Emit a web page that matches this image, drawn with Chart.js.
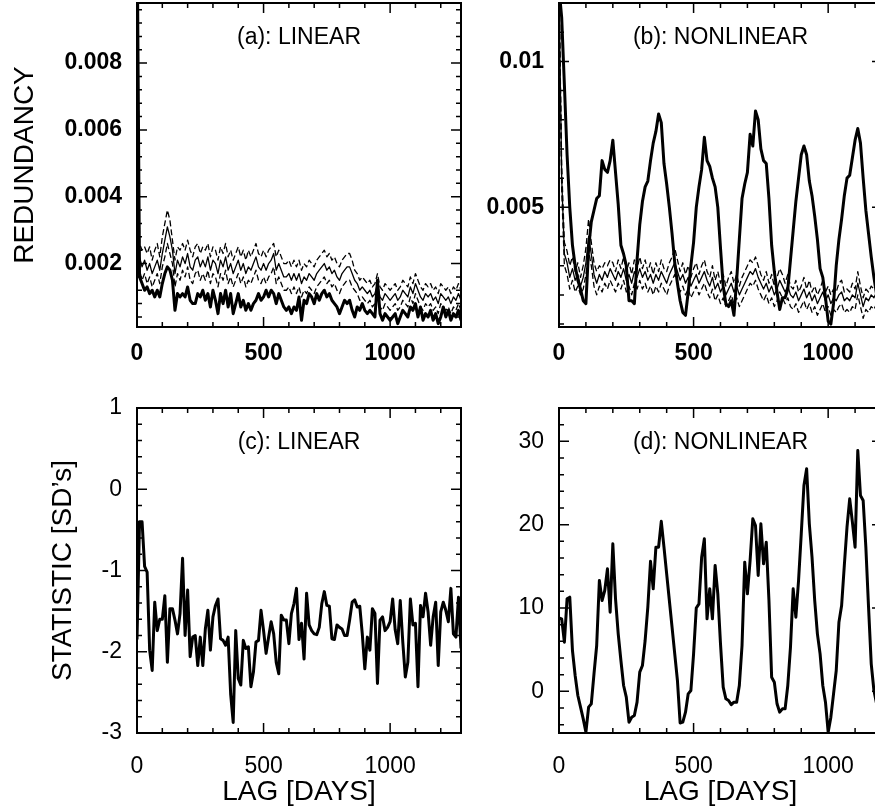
<!DOCTYPE html>
<html lang="en">
<head>
    <meta charset="UTF-8">
    <title>Redundancy and test statistic versus lag</title>
    <style>
        html, body {
            margin: 0;
            padding: 0;
            background: #ffffff;
            width: 875px;
            height: 812px;
            overflow: hidden;
        }

        canvas {
            position: absolute;
        }

        #chartA { left: 0; top: 0; }
        #chartB { left: 440px; top: 0; }
        #chartC { left: 0; top: 380px; }
        #chartD { left: 440px; top: 380px; }
    </style>
</head>
<body>
    <canvas id="chartA" width="470" height="380"></canvas>
    <canvas id="chartB" width="460" height="380"></canvas>
    <canvas id="chartC" width="470" height="432"></canvas>
    <canvas id="chartD" width="460" height="432"></canvas>

    <script src="https://cdn.jsdelivr.net/npm/chart.js"></script>
    <script>
        // Lags in days (shared by all four panels)
        const LAGS = [
            0, 10, 20, 30, 40, 50, 60, 70, 80, 90,
            100, 110, 120, 130, 140, 150, 160, 170, 180, 190,
            200, 210, 220, 230, 240, 250, 260, 270, 280, 290,
            300, 310, 320, 330, 340, 350, 360, 370, 380, 390,
            400, 410, 420, 430, 440, 450, 460, 470, 480, 490,
            500, 510, 520, 530, 540, 550, 560, 570, 580, 590,
            600, 610, 620, 630, 640, 650, 660, 670, 680, 690,
            700, 710, 720, 730, 740, 750, 760, 770, 780, 790,
            800, 810, 820, 830, 840, 850, 860, 870, 880, 890,
            900, 910, 920, 930, 940, 950, 960, 970, 980, 990,
            1000, 1010, 1020, 1030, 1040, 1050, 1060, 1070, 1080, 1090,
            1100, 1110, 1120, 1130, 1140, 1150, 1160, 1170, 1180, 1190,
            1200, 1210, 1220, 1230, 1240, 1250, 1260, 1270, 1280
        ];

        // (a) linear redundancy: data, surrogate mean, surrogate band
        const redLinData = [
            .0125, .0016, .0014, .0012, .0013, .0011, .0012, .0010, .0012, .0010,
            .0014, .0017, .0019, .0018, .0015, .0006, .0011, .0010, .0011, .0010,
            .0013, .0009, .0008, .0008, .0011, .0010, .0012, .0009, .0011, .0007,
            .0012, .0009, .0005, .0011, .0008, .0012, .0007, .0011, .0005, .0008,
            .0011, .0007, .0009, .0006, .0008, .0006, .0008, .0009, .0011, .0009,
            .0010, .0012, .0010, .0012, .0011, .0008, .0011, .0009, .0007, .0006,
            .0007, .0005, .0007, .0006, .0010, .0003, .0009, .0008, .0011, .0010,
            .0008, .0011, .0009, .0011, .0012, .0010, .0011, .0009, .0008, .0007,
            .0005, .0007, .0009, .0008, .0009, .0006, .0004, .0007, .0006, .0008,
            .0006, .0005, .0006, .0005, .0004, .0015, .0005, .0003, .0005, .0004,
            .0003, .0004, .0005, .0002, .0004, .0006, .0005, .0004, .0007, .0006,
            .0008, .0004, .0007, .0003, .0005, .0004, .0006, .0003, .0005, .0002,
            .0004, .0007, .0004, .0006, .0003, .0005, .0004, .0006, .0003
        ];
        const redLinMean = [
            .0125, .0022, .0019, .0021, .0018, .0020, .0017, .0019, .0021, .0018,
            .0023, .0027, .0031, .0028, .0024, .0017, .0021, .0019, .0022, .0020,
            .0023, .0019, .0018, .0021, .0022, .0019, .0021, .0019, .0022, .0018,
            .0021, .0020, .0017, .0021, .0019, .0022, .0018, .0020, .0017, .0019,
            .0021, .0018, .0020, .0017, .0019, .0018, .0020, .0022, .0019, .0018,
            .0020, .0018, .0020, .0021, .0023, .0018, .0020, .0018, .0016, .0016,
            .0017, .0015, .0017, .0015, .0017, .0014, .0016, .0015, .0017, .0016,
            .0015, .0017, .0018, .0019, .0020, .0018, .0019, .0017, .0018, .0016,
            .0015, .0017, .0018, .0019, .0019, .0017, .0015, .0014, .0012, .0013,
            .0012, .0011, .0012, .0010, .0011, .0014, .0010, .0009, .0011, .0010,
            .0009, .0010, .0011, .0009, .0010, .0012, .0011, .0010, .0013, .0011,
            .0014, .0012, .0010, .0009, .0011, .0010, .0011, .0009, .0010, .0008,
            .0011, .0010, .0009, .0010, .0008, .0010, .0009, .0011, .0009
        ];
        const redLinUpper = [
            .0125, .0026, .0024, .0025, .0023, .0025, .0021, .0024, .0026, .0022,
            .0028, .0032, .0036, .0033, .0027, .0021, .0025, .0024, .0026, .0024,
            .0027, .0024, .0022, .0025, .0026, .0023, .0025, .0024, .0026, .0022,
            .0025, .0024, .0021, .0025, .0023, .0026, .0022, .0024, .0021, .0023,
            .0025, .0022, .0024, .0021, .0024, .0022, .0024, .0026, .0023, .0022,
            .0024, .0022, .0024, .0025, .0026, .0022, .0024, .0022, .0020, .0020,
            .0021, .0019, .0021, .0019, .0021, .0018, .0020, .0019, .0021, .0020,
            .0019, .0021, .0022, .0023, .0024, .0022, .0023, .0021, .0022, .0020,
            .0019, .0021, .0022, .0023, .0023, .0021, .0018, .0017, .0015, .0016,
            .0015, .0014, .0015, .0013, .0014, .0017, .0013, .0012, .0014, .0013,
            .0012, .0013, .0014, .0012, .0013, .0015, .0014, .0013, .0016, .0014,
            .0017, .0015, .0013, .0012, .0014, .0013, .0014, .0012, .0013, .0011,
            .0014, .0013, .0012, .0013, .0011, .0013, .0012, .0014, .0012
        ];
        const redLinLower = [
            .0125, .0018, .0015, .0017, .0014, .0016, .0013, .0015, .0017, .0014,
            .0019, .0022, .0026, .0023, .0020, .0013, .0017, .0015, .0018, .0016,
            .0019, .0015, .0014, .0017, .0018, .0015, .0017, .0015, .0018, .0014,
            .0017, .0016, .0013, .0017, .0015, .0018, .0014, .0016, .0013, .0015,
            .0017, .0014, .0016, .0013, .0015, .0014, .0016, .0018, .0015, .0014,
            .0016, .0014, .0016, .0017, .0019, .0014, .0016, .0014, .0012, .0012,
            .0013, .0011, .0013, .0011, .0013, .0010, .0012, .0011, .0013, .0012,
            .0011, .0013, .0014, .0015, .0016, .0014, .0015, .0013, .0014, .0012,
            .0011, .0013, .0014, .0015, .0015, .0013, .0012, .0011, .0009, .0010,
            .0009, .0008, .0009, .0007, .0008, .0011, .0007, .0006, .0008, .0007,
            .0006, .0007, .0008, .0006, .0007, .0009, .0008, .0007, .0010, .0008,
            .0011, .0009, .0007, .0006, .0008, .0007, .0008, .0006, .0007, .0005,
            .0008, .0007, .0006, .0007, .0005, .0007, .0006, .0008, .0006
        ];

        // (b) nonlinear redundancy (lags 0..1200)
        const redNonData = [
            .0125, .0115, .0092, .0068, .0050, .0037, .0030, .0025, .0022, .0018,
            .0017, .0036, .0045, .0049, .0053, .0054, .0066, .0063, .0062, .0066,
            .0073, .0062, .0051, .0037, .0034, .0030, .0018, .0018, .0017, .0032,
            .0044, .0052, .0057, .0059, .0066, .0072, .0076, .0082, .0079, .0065,
            .0058, .0050, .0041, .0031, .0024, .0018, .0014, .0013, .0021, .0030,
            .0038, .0050, .0057, .0063, .0074, .0066, .0064, .0060, .0057, .0050,
            .0036, .0023, .0017, .0016, .0018, .0013, .0025, .0039, .0053, .0058,
            .0062, .0075, .0071, .0083, .0080, .0070, .0066, .0065, .0053, .0037,
            .0028, .0021, .0015, .0019, .0019, .0022, .0032, .0042, .0052, .0060,
            .0068, .0071, .0068, .0059, .0054, .0047, .0039, .0029, .0026, .0019,
            .0011, .0010, .0017, .0030, .0039, .0046, .0054, .0060, .0061, .0067,
            .0073, .0077, .0072, .0060, .0049, .0041, .0033, .0026, .0020, .0016,
            .0014
        ];
        const redNonMean = [
            .0125, .0060, .0034, .0031, .0026, .0029, .0025, .0027, .0023, .0026,
            .0031, .0040, .0034, .0027, .0024, .0027, .0025, .0028, .0026, .0029,
            .0027, .0025, .0028, .0026, .0029, .0025, .0027, .0024, .0028, .0026,
            .0029, .0026, .0028, .0025, .0027, .0024, .0027, .0025, .0028, .0026,
            .0024, .0027, .0029, .0031, .0028, .0025, .0027, .0024, .0026, .0023,
            .0025, .0027, .0024, .0026, .0028, .0025, .0023, .0026, .0022, .0024,
            .0021, .0023, .0020, .0022, .0024, .0021, .0023, .0020, .0022, .0024,
            .0026, .0028, .0027, .0029, .0026, .0024, .0022, .0024, .0021, .0023,
            .0020, .0022, .0025, .0023, .0021, .0023, .0020, .0019, .0021, .0018,
            .0020, .0022, .0019, .0021, .0018, .0020, .0017, .0019, .0021, .0018,
            .0020, .0017, .0019, .0018, .0020, .0021, .0018, .0019, .0018, .0020,
            .0019, .0024, .0020, .0016, .0019, .0018, .0020, .0019, .0021, .0019,
            .0020
        ];
        const redNonUpper = [
            .0125, .0064, .0038, .0035, .0030, .0033, .0028, .0031, .0026, .0030,
            .0036, .0046, .0038, .0031, .0028, .0030, .0029, .0031, .0030, .0032,
            .0031, .0028, .0032, .0029, .0033, .0028, .0031, .0027, .0032, .0029,
            .0033, .0029, .0032, .0028, .0031, .0027, .0031, .0028, .0032, .0029,
            .0028, .0031, .0033, .0036, .0032, .0028, .0031, .0027, .0030, .0026,
            .0029, .0031, .0027, .0030, .0032, .0028, .0026, .0030, .0025, .0028,
            .0024, .0027, .0023, .0026, .0028, .0024, .0027, .0023, .0026, .0028,
            .0030, .0032, .0031, .0033, .0030, .0027, .0025, .0028, .0024, .0027,
            .0023, .0026, .0029, .0027, .0024, .0027, .0023, .0022, .0025, .0021,
            .0023, .0026, .0022, .0025, .0021, .0023, .0020, .0022, .0025, .0021,
            .0023, .0020, .0022, .0021, .0024, .0025, .0021, .0022, .0021, .0024,
            .0022, .0028, .0023, .0019, .0022, .0021, .0023, .0022, .0025, .0022,
            .0023
        ];
        const redNonLower = [
            .0125, .0056, .0030, .0027, .0022, .0025, .0021, .0023, .0020, .0022,
            .0027, .0035, .0030, .0023, .0020, .0023, .0021, .0024, .0022, .0025,
            .0023, .0021, .0024, .0022, .0025, .0021, .0023, .0020, .0024, .0022,
            .0025, .0022, .0024, .0021, .0023, .0020, .0023, .0021, .0024, .0022,
            .0020, .0023, .0025, .0027, .0024, .0021, .0023, .0020, .0022, .0019,
            .0021, .0023, .0020, .0022, .0024, .0021, .0019, .0022, .0018, .0020,
            .0017, .0019, .0016, .0018, .0020, .0017, .0019, .0016, .0018, .0020,
            .0022, .0024, .0023, .0025, .0022, .0020, .0018, .0020, .0017, .0019,
            .0016, .0018, .0021, .0019, .0017, .0019, .0016, .0015, .0017, .0014,
            .0016, .0018, .0015, .0017, .0014, .0016, .0013, .0015, .0017, .0014,
            .0016, .0013, .0015, .0014, .0016, .0017, .0014, .0015, .0014, .0016,
            .0015, .0020, .0016, .0012, .0015, .0014, .0016, .0015, .0017, .0015,
            .0016
        ];

        // (c) linear test statistic [SD's]
        const statLin = [
            -1.85, -0.40, -0.40, -0.95, -1.02, -1.98, -2.23, -1.39, -1.74, -1.60,
            -1.60, -1.31, -2.13, -1.47, -1.47, -1.61, -1.78, -1.53, -0.85, -1.80,
            -1.24, -2.06, -1.82, -1.80, -2.17, -1.82, -2.17, -1.72, -1.49, -1.98,
            -1.57, -1.43, -1.35, -1.84, -1.86, -1.92, -1.82, -2.52, -2.87, -1.74,
            -2.33, -2.41, -1.86, -1.96, -1.94, -2.43, -2.25, -1.88, -1.86, -1.49,
            -1.74, -2.02, -1.82, -1.63, -1.78, -2.13, -2.27, -1.55, -1.61, -1.61,
            -1.90, -1.53, -1.41, -1.22, -1.85, -1.65, -2.09, -1.28, -1.67, -1.74,
            -1.78, -1.79, -1.70, -1.41, -1.26, -1.43, -1.44, -1.84, -1.85, -1.67,
            -1.70, -1.72, -1.80, -1.80, -1.61, -1.39, -1.36, -1.45, -1.44, -1.78,
            -2.21, -1.82, -1.98, -1.47, -1.53, -2.39, -1.61, -1.57, -1.74, -1.70,
            -1.63, -1.35, -1.73, -1.90, -1.37, -1.88, -2.31, -2.13, -1.35, -1.67,
            -1.65, -2.43, -1.43, -1.57, -1.28, -1.51, -1.92, -1.57, -1.39, -2.17,
            -1.51, -1.39, -1.49, -1.63, -1.22, -1.78, -1.82, -1.33, -1.96
        ];

        // (d) nonlinear test statistic [SD's] (lags 0..1200)
        const statNon = [
            8.8, 8.7, 5.9, 11.1, 11.3, 4.9, 1.9, -0.5, -1.9, -3.3,
            -4.9, -1.9, -1.5, 2.1, 5.5, 13.3, 10.9, 12.1, 14.7, 9.5,
            17.7, 11.1, 6.9, 3.7, 0.7, -0.7, -3.7, -3.1, -2.9, -1.3,
            2.3, 3.1, 6.1, 10.1, 15.6, 12.3, 17.3, 17.3, 20.4, 17.3,
            14.1, 10.9, 7.7, 4.5, 1.3, -3.8, -3.7, -2.5, -0.3, 0.1,
            4.5, 10.0, 10.5, 16.1, 18.3, 8.7, 12.3, 8.7, 15.1, 11.7,
            5.7, 0.5, -0.9, -1.1, -1.6, -1.3, -1.3, 0.7, 5.5, 15.5,
            11.7, 15.7, 20.7, 19.9, 13.9, 20.1, 15.3, 17.9, 10.9, 1.7,
            1.1, -1.5, -2.5, -2.1, -2.1, 0.7, 5.3, 12.3, 8.9, 13.3,
            18.9, 24.7, 26.7, 20.1, 16.1, 10.9, 6.9, 4.5, 0.7, -1.3,
            -4.9, -3.1, -0.3, 2.5, 8.3, 10.3, 15.1, 19.7, 23.1, 20.3,
            17.3, 28.9, 23.5, 22.9, 17.3, 10.1, 3.3, 0.1, -1.5, -3.0,
            -4.0
        ];

        // Tick labels
        const X_TICKS = [0, 500, 1000];
        const Y_TICKS_A = [0.002, 0.004, 0.006, 0.008];
        const Y_TICKS_B = [0.005, 0.01];
        const Y_TICKS_C = [-3, -2, -1, 0, 1];
        const Y_TICKS_D = [0, 10, 20, 30];

        Chart.defaults.font.family = "'Liberation Sans', Arial, sans-serif";
        Chart.defaults.color = '#000';

        function tickValues(min, max, step) {
            const out = [];
            for (let k = Math.ceil(min / step - 1e-9); k * step <= max + 1e-12; k++) out.push(k * step);
            return out;
        }

        function isMajor(v, major) {
            const r = v / major;
            return Math.abs(r - Math.round(r)) < 1e-6;
        }

        // frame, inward ticks on all four sides, and the panel caption
        const framePlugin = {
            id: 'frame',
            afterDraw(chart, args, o) {
                const { ctx, chartArea: a } = chart;
                const xs = chart.scales.x, ys = chart.scales.y;
                ctx.save();
                ctx.strokeStyle = '#000';
                ctx.lineWidth = 1.5;
                ctx.beginPath();
                tickValues(xs.min, xs.max, o.xMinor).forEach(v => {
                    const len = isMajor(v, o.xMajor) ? 10 : 5;
                    const px = xs.getPixelForValue(v);
                    ctx.moveTo(px, a.bottom); ctx.lineTo(px, a.bottom - len);
                    ctx.moveTo(px, a.top); ctx.lineTo(px, a.top + len);
                });
                tickValues(ys.min, ys.max, o.yMinor).forEach(v => {
                    const len = isMajor(v, o.yMajor) ? 10 : 5;
                    const py = ys.getPixelForValue(v);
                    ctx.moveTo(a.left, py); ctx.lineTo(a.left + len, py);
                    ctx.moveTo(a.right, py); ctx.lineTo(a.right - len, py);
                });
                ctx.stroke();
                ctx.lineWidth = 2;
                ctx.strokeRect(a.left, a.top, a.right - a.left, a.bottom - a.top);

                ctx.fillStyle = '#000';
                ctx.font = "23px 'Liberation Sans', Arial, sans-serif";
                ctx.textAlign = 'center';
                ctx.textBaseline = 'middle';
                ctx.fillText(o.label, (a.left + a.right) / 2, a.top + 35);
                ctx.restore();
            }
        };

        function panel(id, p) {
            const datasets = p.lines.map(l => ({
                data: l.values.map((v, i) => ({ x: LAGS[i], y: v })),
                borderColor: '#000',
                borderWidth: l.width,
                borderDash: l.dash || [],
                borderJoinStyle: 'round',
                pointRadius: 0,
                tension: 0,
                fill: false
            }));
            return new Chart(document.getElementById(id), {
                type: 'line',
                data: { datasets },
                plugins: [framePlugin],
                options: {
                    responsive: false,
                    animation: false,
                    layout: { padding: p.pad },
                    plugins: {
                        legend: { display: false },
                        tooltip: { enabled: false },
                        frame: { xMinor: 100, xMajor: 500, yMinor: p.yMinor, yMajor: p.yMajor, label: p.label }
                    },
                    scales: {
                        x: {
                            type: 'linear',
                            min: 0,
                            max: p.xMax,
                            grid: { display: false, drawTicks: false },
                            border: { display: false },
                            ticks: {
                                font: p.tickFont,
                                padding: p.xPad,
                                autoSkip: false,
                                maxRotation: 0,
                                callback: v => String(v)
                            },
                            title: p.xTitle
                                ? { display: true, text: p.xTitle, font: { size: 28 }, padding: { top: 0, bottom: 3 } }
                                : { display: false },
                            afterBuildTicks: s => { s.ticks = X_TICKS.map(v => ({ value: v })); },
                            afterFit: s => {
                                s.height = p.xHeight;
                                s.paddingLeft = 0;
                                s.paddingRight = 0;
                            }
                        },
                        y: {
                            type: 'linear',
                            min: p.yMin,
                            max: p.yMax,
                            grid: { display: false, drawTicks: false },
                            border: { display: false },
                            ticks: {
                                font: p.tickFont,
                                padding: 15,
                                autoSkip: false,
                                callback: v => String(v)
                            },
                            title: p.yTitle
                                ? { display: true, text: p.yTitle, font: { size: 28 }, padding: { top: p.yTitlePad, bottom: 0 } }
                                : { display: false },
                            afterBuildTicks: s => { s.ticks = p.yTicks.map(v => ({ value: v })); },
                            afterFit: s => {
                                s.width = p.yWidth;
                                s.paddingTop = 0;
                                s.paddingBottom = 0;
                            }
                        }
                    }
                }
            });
        }

        const boldTicks = { size: 23, weight: 'bold' };
        const plainTicks = { size: 23 };

        panel('chartA', {
            label: '(a): LINEAR',
            lines: [
                { values: redLinData, width: 3 },
                { values: redLinMean, width: 1.3 },
                { values: redLinUpper, width: 1.3, dash: [6, 3] },
                { values: redLinLower, width: 1.3, dash: [6, 3] }
            ],
            xMax: 1280, yMin: 0.0001, yMax: 0.0098,
            yTicks: Y_TICKS_A, yMinor: 0.0004, yMajor: 0.002,
            tickFont: boldTicks, xPad: 13,
            yTitle: 'REDUNDANCY', yTitlePad: 8,
            pad: { left: 0, top: 3, right: 9, bottom: 0 },
            yWidth: 137, xHeight: 53
        });

        panel('chartB', {
            label: '(b): NONLINEAR',
            lines: [
                { values: redNonData, width: 3 },
                { values: redNonMean, width: 1.3 },
                { values: redNonUpper, width: 1.3, dash: [6, 3] },
                { values: redNonLower, width: 1.3, dash: [6, 3] }
            ],
            xMax: 1200, yMin: 0.0009, yMax: 0.012,
            yTicks: Y_TICKS_B, yMinor: 0.001, yMajor: 0.005,
            tickFont: boldTicks, xPad: 13,
            pad: { left: 0, top: 3, right: 18, bottom: 0 },
            yWidth: 119, xHeight: 53
        });

        panel('chartC', {
            label: '(c): LINEAR',
            lines: [{ values: statLin, width: 3 }],
            xMax: 1280, yMin: -3, yMax: 1,
            yTicks: Y_TICKS_C, yMinor: 0.2, yMajor: 1,
            tickFont: plainTicks, xPad: 20,
            xTitle: 'LAG [DAYS]',
            yTitle: "STATISTIC [SD’s]", yTitlePad: 46,
            pad: { left: 0, top: 28, right: 9, bottom: 0 },
            yWidth: 137, xHeight: 79
        });

        panel('chartD', {
            label: '(d): NONLINEAR',
            lines: [{ values: statNon, width: 3 }],
            xMax: 1200, yMin: -5, yMax: 34,
            yTicks: Y_TICKS_D, yMinor: 2, yMajor: 10,
            tickFont: plainTicks, xPad: 20,
            xTitle: 'LAG [DAYS]',
            pad: { left: 0, top: 28, right: 18, bottom: 0 },
            yWidth: 119, xHeight: 79
        });
    </script>
</body>
</html>
